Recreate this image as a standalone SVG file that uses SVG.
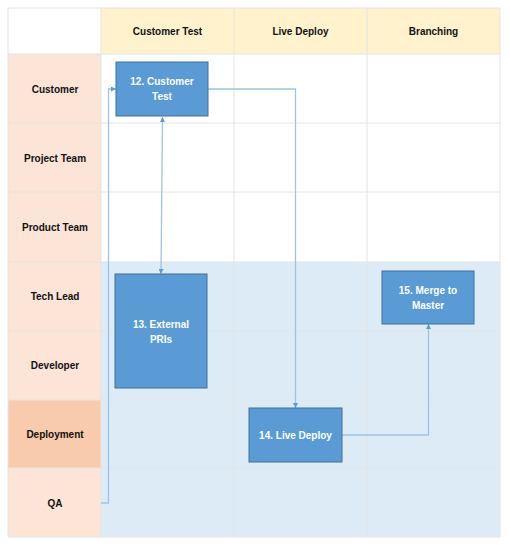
<svg xmlns="http://www.w3.org/2000/svg" width="510" height="553" viewBox="0 0 510 553">
<style>
.hdr{fill:#FFF2CC}
.lane{fill:#FCE4D6}
.lane-hi{fill:#F8CBAD}
.body-w{fill:#FFFFFF}
.body-b{fill:#DDEBF7}
.grid{stroke:#E4E4E4;stroke-width:1;fill:none}
.lbl{font-family:"Liberation Sans",Arial,sans-serif;font-weight:bold;font-size:10px;fill:#111;text-anchor:middle}
.node rect{fill:#5B9BD5;stroke:#41719C;stroke-width:1}
.node text{font-family:"Liberation Sans",Arial,sans-serif;font-weight:bold;font-size:10px;fill:#FFFFFF;text-anchor:middle}
.conn{stroke:#9DC3E6;stroke-width:1.3;fill:none}
</style>
<defs>
<marker id="arr" viewBox="0 0 10 10" refX="10" refY="5" markerWidth="5" markerHeight="5" orient="auto-start-reverse" markerUnits="userSpaceOnUse">
<path d="M0,0 L10,5 L0,10 z" fill="#5B9BD5"/>
</marker>
</defs>
<rect width="510" height="553" fill="#FFFFFF"/>
<g id="table">
<rect x="8" y="8" width="93" height="46" fill="#FFFFFF"/>
<rect class="hdr" x="101" y="8" width="399" height="46"/>
<rect class="lane" x="8" y="54" width="93" height="346"/>
<rect class="lane-hi" x="8" y="400" width="93" height="68"/>
<rect class="lane" x="8" y="468" width="93" height="69"/>
<rect class="body-w" x="101" y="54" width="399" height="208"/>
<rect class="body-b" x="101" y="262" width="399" height="275"/>
<path class="grid" d="M8,8 H500 V537 H8 Z M101,8 V537 M234,8 V537 M367,8 V537 M8,54 H500 M8,123 H500 M8,192 H500 M8,262 H500 M8,331 H500 M8,400 H500 M8,468 H500"/>
<text class="lbl" x="167.5" y="35">Customer Test</text>
<text class="lbl" x="300.5" y="35">Live Deploy</text>
<text class="lbl" x="433.5" y="35">Branching</text>
<text class="lbl" x="55" y="93">Customer</text>
<text class="lbl" x="55" y="162">Project Team</text>
<text class="lbl" x="55" y="231">Product Team</text>
<text class="lbl" x="55" y="300">Tech Lead</text>
<text class="lbl" x="55" y="369">Developer</text>
<text class="lbl" x="55" y="438">Deployment</text>
<text class="lbl" x="55" y="507">QA</text>
</g>
<g id="connectors">
<path class="conn" d="M101,503 H108.5 V89 H116" marker-end="url(#arr)"/>
<path class="conn" d="M162.5,117 L161,274" marker-start="url(#arr)" marker-end="url(#arr)"/>
<path class="conn" d="M208,89 H295.5 V408" marker-end="url(#arr)"/>
<path class="conn" d="M342,435 H428.5 V324" marker-end="url(#arr)"/>
</g>
<g id="n12" class="node">
<rect x="116" y="62" width="92" height="54"/>
<text x="162" y="85">12. Customer</text>
<text x="162" y="100">Test</text>
</g>
<g id="n13" class="node">
<rect x="115" y="274" width="92" height="114"/>
<text x="161" y="328">13. External</text>
<text x="161" y="343">PRIs</text>
</g>
<g id="n14" class="node">
<rect x="249" y="408" width="93" height="54"/>
<text x="295.5" y="439">14. Live Deploy</text>
</g>
<g id="n15" class="node">
<rect x="382" y="271" width="92" height="53"/>
<text x="428" y="294">15. Merge to</text>
<text x="428" y="309">Master</text>
</g>
</svg>
